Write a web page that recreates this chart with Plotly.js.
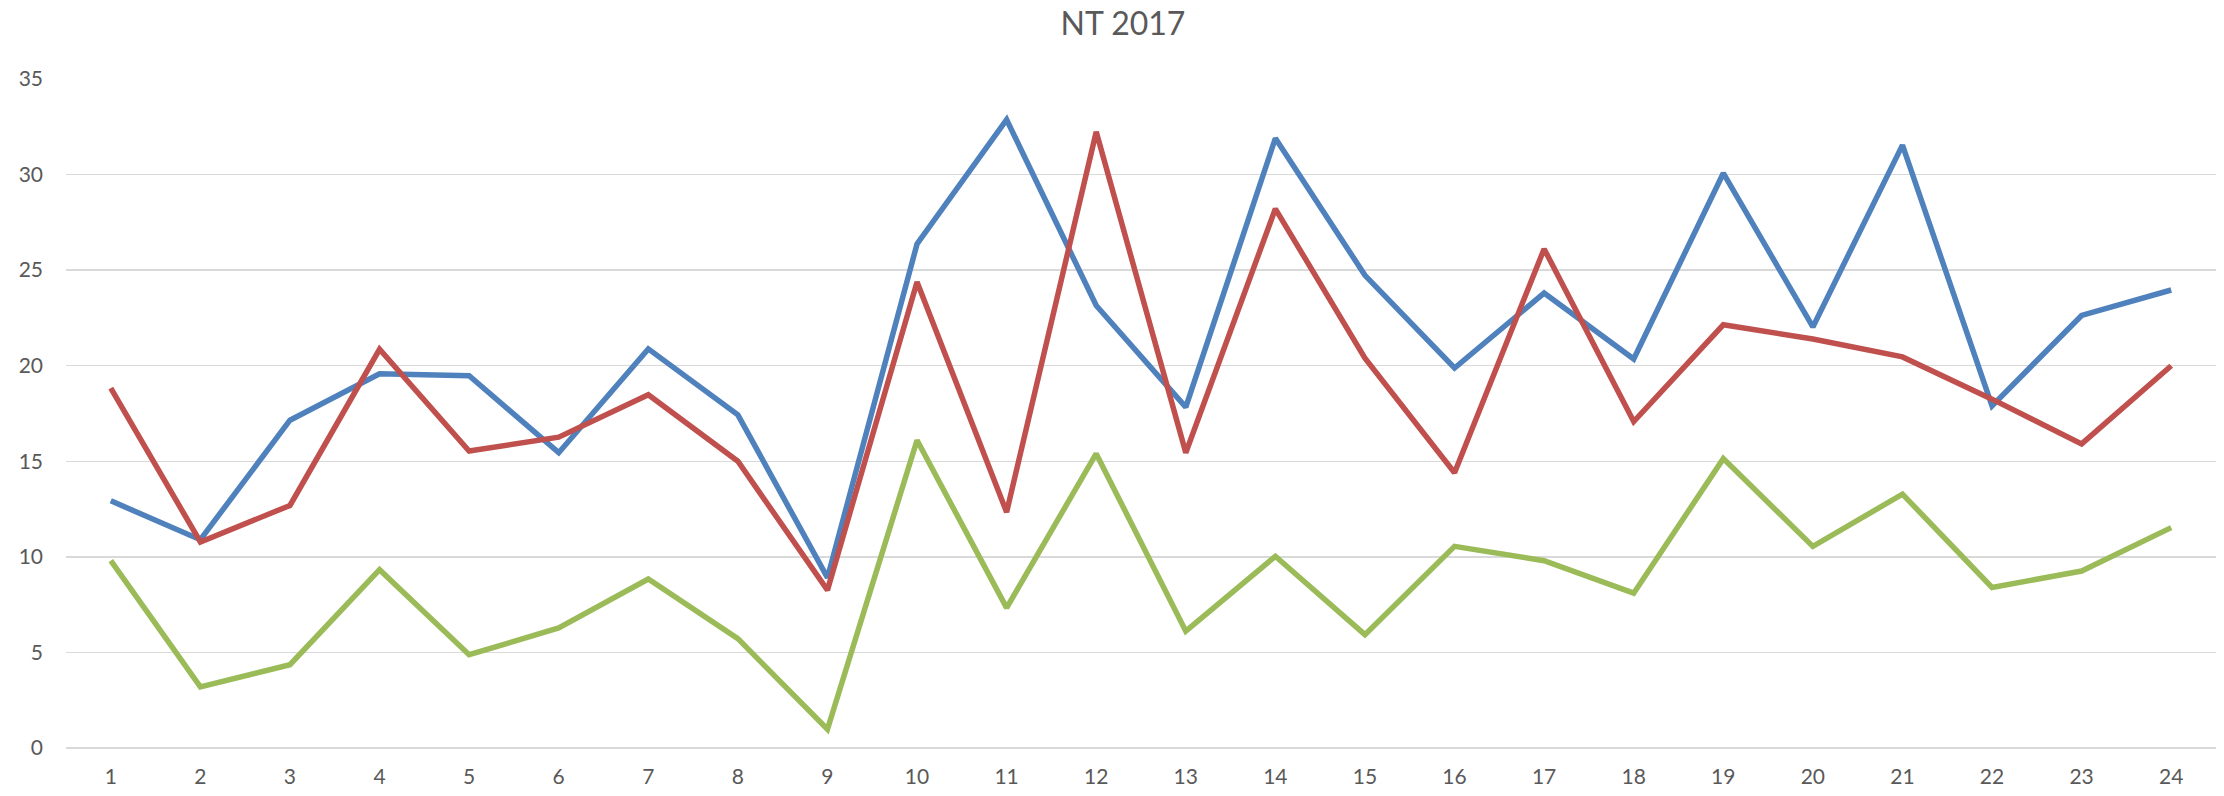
<!DOCTYPE html>
<html>
<head>
<meta charset="utf-8">
<script src="https://cdn.plot.ly/plotly-3.0.1.min.js"></script>
<style>html,body{margin:0;padding:0;background:#fff;}#chart{width:2224px;height:796px;}</style>
</head>
<body>
<div id="chart"></div>
<script>
const categories = ["1","2","3","4","5","6","7","8","9","10","11","12","13","14","15","16","17","18","19","20","21","22","23","24"];
const seriesBlue = [12.93,10.9,17.15,19.58,19.48,15.45,20.88,17.43,8.91,26.37,32.87,23.15,17.83,31.9,24.73,19.88,23.8,20.35,30.07,22.03,31.54,17.9,22.63,23.96];
const seriesRed = [18.83,10.78,12.69,20.86,15.54,16.26,18.48,15.0,8.26,24.38,12.34,32.24,15.45,28.21,20.39,14.4,26.11,17.08,22.14,21.4,20.46,18.25,15.91,20.0];
const seriesGreen = [9.8,3.2,4.36,9.33,4.88,6.28,8.84,5.72,0.98,16.1,7.33,15.4,6.11,10.03,5.93,10.55,9.8,8.1,15.14,10.55,13.28,8.4,9.26,11.53];
const yTicks = [0,5,10,15,20,25,30,35];

const fontFam = "Lato, 'Open Sans', sans-serif";
const xPos = categories.map((c, i) => i + 1);

function mk(y, color) {
  return {x: xPos, y: y, type: 'scatter', mode: 'lines',
    line: {color: color, width: 5.5, shape: 'linear'}, hoverinfo: 'skip'};
}

const data = [mk(seriesBlue, '#4F81BD'), mk(seriesRed, '#C0504D'), mk(seriesGreen, '#9BBB59')];

const layout = {
  width: 2224, height: 796,
  margin: {l: 66, r: 8, t: 79, b: 48},
  paper_bgcolor: '#ffffff', plot_bgcolor: '#ffffff',
  showlegend: false,
  font: {family: fontFam, color: '#595959', size: 21},
  title: {text: 'NT 2017', font: {family: fontFam, size: 32, color: '#595959'},
    x: 1123/2224, xanchor: 'center', y: 1 - 24/796, yanchor: 'middle', yref: 'container', xref: 'container'},
  xaxis: {range: [0.5, 24.5], tickmode: 'array', tickvals: xPos, ticktext: categories,
    showgrid: false, zeroline: false, showline: false, ticks: '', ticklabelstandoff: 14,
    tickfont: {family: fontFam, size: 21, color: '#595959'}, fixedrange: true},
  yaxis: {range: [0, 35], tickmode: 'array', tickvals: yTicks, ticktext: yTicks.map(String),
    showgrid: true, gridcolor: '#D9D9D9', gridwidth: 1.5, zeroline: true, zerolinecolor: '#D9D9D9', zerolinewidth: 1.5,
    showline: false, ticks: '', ticklabelstandoff: 22,
    tickfont: {family: fontFam, size: 21, color: '#595959'}, fixedrange: true}
};

Plotly.newPlot('chart', data, layout, {displayModeBar: false, staticPlot: true});
</script>
</body>
</html>
